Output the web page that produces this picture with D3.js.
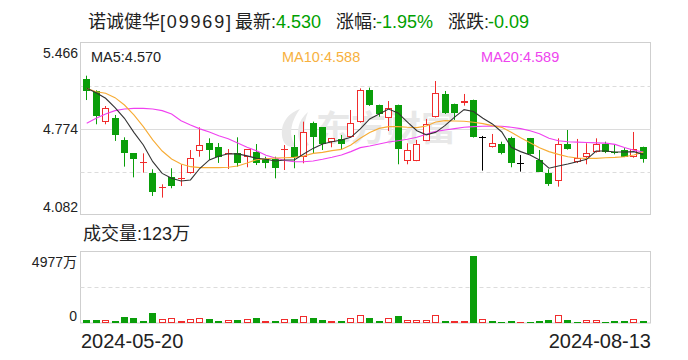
<!DOCTYPE html>
<html><head><meta charset="utf-8">
<script src="https://cdn.jsdelivr.net/npm/d3@7"></script>
<style>body{margin:0;background:#fff}svg{display:block}</style>
</head><body><svg id="c" width="688" height="360"></svg>
<script>
const titleName = "诺诚健华[09969]";
const lastPrice = "4.530";
const changePct = "-1.95%";
const changeAmt = "-0.09";
const volumeNow = "123万";
const ma5Now = "4.570", ma10Now = "4.588", ma20Now = "4.589";

const dates = ["2024-05-20","2024-05-21","2024-05-22","2024-05-23","2024-05-24","2024-05-27","2024-05-28","2024-05-29","2024-05-30","2024-05-31",
"2024-06-03","2024-06-04","2024-06-05","2024-06-06","2024-06-07","2024-06-11","2024-06-12","2024-06-13","2024-06-14","2024-06-17",
"2024-06-18","2024-06-19","2024-06-20","2024-06-21","2024-06-24","2024-06-25","2024-06-26","2024-06-27","2024-06-28","2024-07-02",
"2024-07-03","2024-07-04","2024-07-05","2024-07-08","2024-07-09","2024-07-10","2024-07-11","2024-07-12","2024-07-15","2024-07-16",
"2024-07-17","2024-07-18","2024-07-19","2024-07-22","2024-07-23","2024-07-24","2024-07-25","2024-07-26","2024-07-29","2024-07-30",
"2024-07-31","2024-08-01","2024-08-02","2024-08-05","2024-08-06","2024-08-07","2024-08-08","2024-08-09","2024-08-12","2024-08-13"];

const open  = [5.176,5.080,4.828,4.860,4.686,4.578,4.502,4.417,4.298,4.385,4.373,4.417,4.597,4.659,4.632,4.570,4.578,4.546,4.586,4.530,
4.533,4.606,4.627,4.546,4.820,4.788,4.667,4.694,4.712,4.828,5.088,4.967,4.860,4.967,4.517,4.517,4.678,4.868,5.053,4.975,
4.981,5.007,4.712,4.627,4.651,4.699,4.498,4.699,4.525,4.417,4.356,4.651,4.506,4.546,4.586,4.651,4.592,4.605,4.545,4.627];
const high  = [5.203,5.085,4.959,4.887,4.707,4.580,4.578,4.450,4.329,4.458,4.490,4.605,4.787,4.699,4.661,4.613,4.707,4.612,4.653,4.551,
4.551,4.645,4.726,4.833,4.833,4.788,4.702,4.726,4.927,5.101,5.107,4.970,4.999,4.970,4.659,4.686,4.855,5.160,5.080,4.978,
5.056,5.010,4.718,4.734,4.672,4.712,4.565,4.702,4.605,4.450,4.699,4.766,4.694,4.659,4.699,4.672,4.651,4.620,4.750,4.632];
const low   = [5.007,4.812,4.812,4.678,4.471,4.385,4.423,4.235,4.222,4.297,4.315,4.415,4.551,4.525,4.501,4.452,4.471,4.466,4.484,4.458,
4.377,4.444,4.458,4.498,4.578,4.605,4.627,4.605,4.710,4.825,4.960,4.873,4.758,4.490,4.490,4.515,4.676,4.866,4.895,4.847,
4.962,4.705,4.439,4.625,4.570,4.466,4.431,4.568,4.431,4.316,4.310,4.608,4.500,4.490,4.584,4.580,4.570,4.548,4.543,4.503];
const close = [5.082,4.881,4.940,4.726,4.578,4.535,4.510,4.270,4.306,4.318,4.381,4.543,4.643,4.605,4.551,4.578,4.503,4.610,4.498,4.498,
4.463,4.614,4.551,4.747,4.707,4.653,4.699,4.653,4.820,5.088,4.967,4.895,4.940,4.610,4.605,4.651,4.812,5.061,4.900,4.900,
5.002,4.712,4.712,4.659,4.584,4.503,4.498,4.570,4.431,4.332,4.651,4.610,4.543,4.578,4.651,4.586,4.578,4.551,4.615,4.530];

const ma5  = [5.101,5.066,5.021,4.946,4.860,4.747,4.645,4.511,4.417,4.377,4.356,4.364,4.458,4.525,4.555,4.575,4.574,4.558,4.538,4.530,
4.517,4.525,4.525,4.573,4.618,4.653,4.672,4.685,4.707,4.775,4.855,4.895,4.935,4.903,4.830,4.760,4.727,4.747,4.803,4.870,
4.930,4.915,4.860,4.815,4.750,4.627,4.592,4.565,4.525,4.458,4.476,4.492,4.511,4.530,4.597,4.597,4.589,4.589,4.592,4.570];
const ma10 = [5.101,5.074,5.061,5.026,4.967,4.887,4.793,4.686,4.597,4.533,4.492,4.471,4.463,4.463,4.463,4.466,4.476,4.500,4.527,4.534,
4.541,4.543,4.546,4.557,4.578,4.586,4.600,4.610,4.645,4.700,4.745,4.779,4.793,4.793,4.788,4.785,4.798,4.830,4.841,4.838,
4.836,4.828,4.817,4.801,4.787,4.747,4.704,4.664,4.624,4.592,4.570,4.551,4.541,4.538,4.538,4.543,4.546,4.551,4.565,4.588];
const ma20 = [4.820,4.860,4.895,4.922,4.935,4.940,4.940,4.935,4.922,4.895,4.840,4.806,4.775,4.750,4.720,4.695,4.662,4.628,4.598,4.563,
4.540,4.520,4.511,4.511,4.517,4.530,4.546,4.565,4.592,4.624,4.637,4.653,4.670,4.680,4.691,4.707,4.731,4.755,4.766,4.777,
4.788,4.793,4.796,4.798,4.796,4.788,4.777,4.760,4.735,4.700,4.680,4.672,4.668,4.665,4.662,4.660,4.650,4.625,4.603,4.589];

// volume in 万 shares
const volume = [230,225,220,150,450,370,150,740,300,370,150,300,370,300,150,220,220,300,370,150,
150,300,300,520,370,220,150,150,370,570,370,150,370,520,220,220,220,570,150,150,
150,4977,300,150,80,150,80,80,150,220,570,220,80,220,220,80,150,150,300,123];
const volUp = [0,0,1,0,0,0,0,0,1,1,1,1,1,0,0,1,0,1,0,1,0,1,0,1,0,0,1,0,1,1,
0,0,1,0,1,1,1,1,0,1,1,0,1,0,0,0,1,0,0,0,1,0,0,1,1,0,0,0,1,0];

const priceTicks = [5.466, 4.774, 4.082];
const volTicks = [4977, 0];

const RED = "#f02c2c", GREEN = "#0a9e0a", UPTXT = "#00a000";
const FONT = "'Liberation Sans','Noto Sans CJK SC',Arial,sans-serif";

const svg = d3.select("#c").style("font-family", FONT);
svg.append("rect").attr("width",688).attr("height",360).attr("fill","#fff");

// ---------- Title ----------
const tg = svg.append("g").attr("font-size",18);
function t(x, s, fill){ return tg.append("text").attr("x",x).attr("y",28).attr("fill",fill||"#222").text(s); }
t(88, titleName.slice(0,4));
t(160, titleName.slice(4)).attr("textLength",71).attr("lengthAdjust","spacing");
t(235, "最新:"); t(276, lastPrice, UPTXT);
t(336, "涨幅:"); t(376, changePct, UPTXT);
t(448, "涨跌:"); t(488, changeAmt, UPTXT);

// ---------- Scales ----------
const L = 80.5, R = 650.5;
const x = d3.scaleBand().domain(dates).range([82,648]).paddingInner(0.22).paddingOuter(0.11);
const cx = d => Math.floor(x(d) + x.bandwidth()/2) + 0.5;
const y = d3.scaleLinear().domain([4.082,5.466]).range([215,43]);
const vy = d3.scaleLinear().domain([0,4977]).range([323,256]);

// ---------- Price panel ----------
const pg = svg.append("g");
pg.append("rect").attr("x",L).attr("y",42.5).attr("width",R-L).attr("height",172)
  .attr("fill","none").attr("stroke","#cfcfcf");
const q = (5.466-4.082)/4;
[5.466-q, 4.082+q].forEach(v=>{
  pg.append("line").attr("x1",L).attr("x2",R).attr("y1",Math.round(y(v))+0.5).attr("y2",Math.round(y(v))+0.5)
    .attr("stroke","#dcdcdc").attr("stroke-dasharray","4,3");
});
pg.append("line").attr("x1",L).attr("x2",R).attr("y1",Math.round(y(4.774))+0.5).attr("y2",Math.round(y(4.774))+0.5)
  .attr("stroke","#dcdcdc");

// watermark
const wm = pg.append("g").attr("fill","#e8e8e8");
wm.append("path").attr("d","M300,109 C286,114 279,126 283,140 C285,146 290,148 296,146 C289,138 289,124 300,109 Z");
wm.append("path").attr("d","M308,112 C298,120 296,132 300,142 C302,146 306,147 309,145 C303,136 303,124 308,112 Z");
wm.append("text").attr("x",316).attr("y",141).attr("font-size",35).attr("font-weight","bold")
  .attr("font-family","'Noto Sans CJK SC',sans-serif").attr("letter-spacing",0).text("东方财富");

// price axis
const pAxis = d3.axisLeft(y).tickValues(priceTicks).tickSize(0).tickPadding(3).tickFormat(d3.format(".3f"));
const pa = svg.append("g").attr("transform","translate(81,0)").call(pAxis);
pa.select(".domain").remove();
pa.selectAll("text").attr("font-size",14).attr("fill","#222").attr("font-family",FONT)
  .attr("dy",(d,i)=> i===0 ? "1.0em" : (i===2 ? "-0.25em" : "0.35em"));

// candles
const idx = d3.range(dates.length);
const cg = pg.append("g");
idx.forEach(i=>{
  const d = dates[i], o=open[i], c=close[i];
  const col = c>o ? RED : (c<o ? GREEN : "#000");
  const X = cx(d);
  const top = y(Math.max(o,c)), bot = y(Math.min(o,c));
  if (c>o){
    cg.append("line").attr("x1",X).attr("x2",X).attr("y1",y(high[i])).attr("y2",Math.round(top)).attr("stroke",col);
    cg.append("line").attr("x1",X).attr("x2",X).attr("y1",Math.round(bot)).attr("y2",y(low[i])).attr("stroke",col);
    const h = Math.max(1, Math.round(bot)-Math.round(top));
    cg.append("rect").attr("x",X-3).attr("y",Math.round(top)+0.5).attr("width",6).attr("height",h-1 > 0 ? h-1 : 0.01)
      .attr("fill","#fff").attr("stroke",col);
  } else if (c<o){
    cg.append("line").attr("x1",X).attr("x2",X).attr("y1",y(high[i])).attr("y2",y(low[i])).attr("stroke",col);
    cg.append("rect").attr("x",X-3.5).attr("y",Math.round(top)).attr("width",7)
      .attr("height",Math.max(1,Math.round(bot)-Math.round(top))).attr("fill",col);
  } else {
    cg.append("line").attr("x1",X).attr("x2",X).attr("y1",y(high[i])).attr("y2",y(low[i])).attr("stroke",col);
    cg.append("line").attr("x1",X-3.5).attr("x2",X+3.5).attr("y1",Math.round(top)+0.5).attr("y2",Math.round(top)+0.5).attr("stroke",col);
  }
});

// MA lines
const line = arr => d3.line().x((v,i)=>x(dates[i])+x.bandwidth()/2).y(v=>y(v)).curve(d3.curveLinear)(arr);
[[ma20,"#f040f0"],[ma10,"#f7ac35"],[ma5,"#333"]].forEach(([a,col])=>{
  pg.append("path").attr("d",line(a)).attr("fill","none").attr("stroke",col).attr("stroke-width",1.1);
});

// MA legend
const lg = svg.append("g").attr("font-size",14.5);
lg.append("text").attr("x",91).attr("y",62).attr("fill","#222").text("MA5:"+ma5Now);
lg.append("text").attr("x",282).attr("y",62).attr("fill","#f7b13e").text("MA10:"+ma10Now);
lg.append("text").attr("x",481).attr("y",62).attr("fill","#ee44ee").text("MA20:"+ma20Now);

// ---------- Volume panel ----------
svg.append("text").attr("x",83).attr("y",240).attr("font-size",18).attr("fill","#222").text("成交量:"+volumeNow);
const vg = svg.append("g");
vg.append("rect").attr("x",L).attr("y",251.5).attr("width",R-L).attr("height",71.5)
  .attr("fill","none").attr("stroke","#cfcfcf");
vg.append("line").attr("x1",L).attr("x2",R).attr("y1",287.5).attr("y2",287.5)
  .attr("stroke","#dcdcdc").attr("stroke-dasharray","4,3");

const vAxis = d3.axisLeft(vy).tickValues(volTicks).tickSize(0).tickPadding(4).tickFormat(d=> d===0 ? "0" : d+"万");
const va = svg.append("g").attr("transform","translate(81,0)").call(vAxis);
va.select(".domain").remove();
va.selectAll("text").attr("font-size",14).attr("fill","#222").attr("font-family",FONT)
  .attr("dy",(d,i)=> d===0 ? "-0.15em" : "0.75em");

idx.forEach(i=>{
  const X = cx(dates[i]);
  const top = Math.round(vy(volume[i]));
  const h = Math.max(1, 323 - top);
  if (volUp[i]){
    vg.append("rect").attr("x",X-3).attr("y",top+0.5).attr("width",6).attr("height",Math.max(0.01,h-1))
      .attr("fill","#fff").attr("stroke",RED);
  } else {
    vg.append("rect").attr("x",X-3.5).attr("y",top).attr("width",7).attr("height",h).attr("fill",GREEN);
  }
});

// ---------- Date labels ----------
svg.append("text").attr("x",81).attr("y",348).attr("font-size",20).attr("fill","#222").text(dates[0]);
svg.append("text").attr("x",651).attr("y",348).attr("font-size",20).attr("fill","#222")
  .attr("text-anchor","end").text(dates[dates.length-1]);
</script>
</body></html>
